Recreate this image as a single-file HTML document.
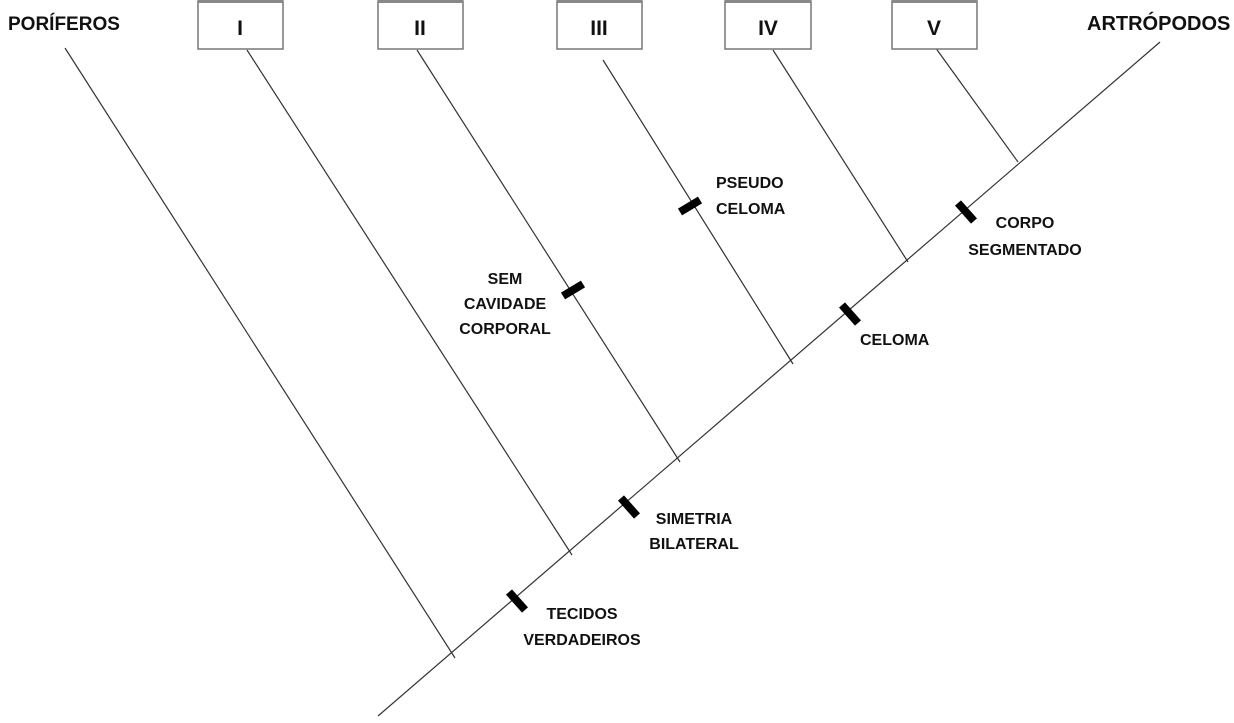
<!DOCTYPE html>
<html><head><meta charset="utf-8"><style>
html,body{margin:0;padding:0;background:#fff;}
svg text{font-family:"Liberation Sans",sans-serif;font-weight:bold;fill:#111;}
</style></head><body>
<svg width="1234" height="718" viewBox="0 0 1234 718" xmlns="http://www.w3.org/2000/svg">
<g stroke="#333" stroke-width="1.2" fill="none">
<line x1="378" y1="716" x2="1160" y2="42"/>
<line x1="65" y1="48" x2="455" y2="658"/>
<line x1="247" y1="50" x2="572" y2="555"/>
<line x1="417" y1="50" x2="680" y2="462"/>
<line x1="603" y1="60" x2="793" y2="364"/>
<line x1="773" y1="50" x2="908" y2="262"/>
<line x1="935" y1="47" x2="1018" y2="162"/>
</g>
<g stroke="#000" stroke-width="8">
<line x1="509" y1="592" x2="525" y2="610"/>
<line x1="621" y1="498" x2="637" y2="516"/>
<line x1="842" y1="305" x2="858" y2="323"/>
<line x1="958" y1="203" x2="974" y2="221"/>
<line x1="563" y1="296" x2="583" y2="284"/>
<line x1="680" y1="212" x2="700" y2="200"/>
</g>
<g stroke="#777" stroke-width="1.5" fill="#fff">
<rect x="198" y="1" width="85" height="48"/>
<rect x="378" y="1" width="85" height="48"/>
<rect x="557" y="1" width="85" height="48"/>
<rect x="725" y="1" width="86" height="48"/>
<rect x="892" y="1" width="85" height="48"/>
</g>
<g fill="#888">
<rect x="198" y="0" width="85" height="3"/>
<rect x="378" y="0" width="85" height="3"/>
<rect x="557" y="0" width="85" height="3"/>
<rect x="725" y="0" width="86" height="3"/>
<rect x="892" y="0" width="85" height="3"/>
</g>
<g font-size="21" text-anchor="middle">
<text x="240" y="35">I</text>
<text x="420" y="35">II</text>
<text x="599" y="35">III</text>
<text x="768" y="35">IV</text>
<text x="934" y="35">V</text>
</g>
<text x="8" y="30" font-size="19">PORÍFEROS</text>
<text x="1087" y="30" font-size="20">ARTRÓPODOS</text>
<g font-size="16">
<text x="716" y="188">PSEUDO</text>
<text x="716" y="214">CELOMA</text>
<text x="505" y="284" text-anchor="middle">SEM</text>
<text x="505" y="309" text-anchor="middle">CAVIDADE</text>
<text x="505" y="334" text-anchor="middle">CORPORAL</text>
<text x="1025" y="228" text-anchor="middle">CORPO</text>
<text x="1025" y="255" text-anchor="middle">SEGMENTADO</text>
<text x="860" y="345">CELOMA</text>
<text x="694" y="524" text-anchor="middle">SIMETRIA</text>
<text x="694" y="549" text-anchor="middle">BILATERAL</text>
<text x="582" y="619" text-anchor="middle">TECIDOS</text>
<text x="582" y="645" text-anchor="middle">VERDADEIROS</text>
</g>
</svg>
</body></html>
